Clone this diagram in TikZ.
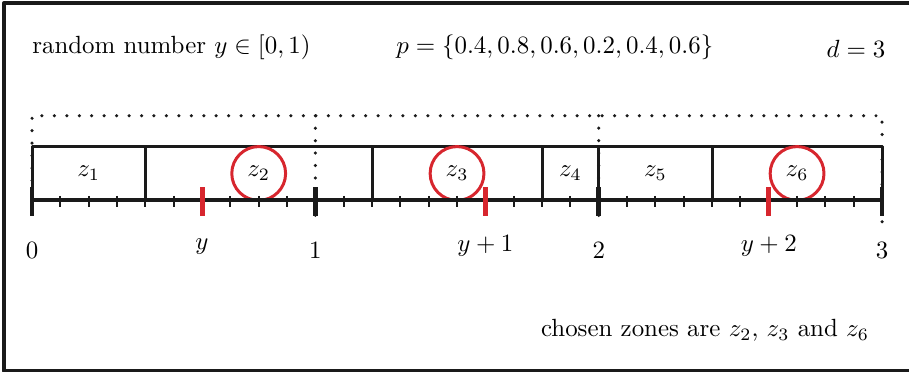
\documentclass[tikz,border=0pt]{standalone}
\usepackage{amsmath,amssymb}
\usepackage{xcolor}
\usepackage{tikz}
\usetikzlibrary{positioning,calc}
\definecolor{ink}{HTML}{1A1A1A}
\definecolor{pickred}{HTML}{D7262E}
\tikzset{
    every picture/.style={line join=round},
    zonebox/.style={draw=ink,line width=1.2pt,minimum height=0.75cm,
      inner sep=0pt,outer sep=0pt,font=\normalsize},
    picked/.style={draw=pickred,circle,line width=1.2pt,minimum size=0.76cm,
      inner sep=0pt},
    axisline/.style={draw=ink,line width=1.4pt},
    smalltick/.style={draw=ink,line width=0.75pt},
    bigtick/.style={draw=ink,line width=1.9pt},
    ymark/.style={draw=pickred,line width=2pt},
    bracket/.style={draw=ink,line width=1.4pt,line cap=round,
      dash pattern=on 0pt off 5pt},
    ticklabel/.style={font=\normalsize,inner sep=1pt}
}
\begin{document}
\begin{tikzpicture}
  \useasboundingbox (-0.452,-2.414) rectangle (12.38,2.824);
  \draw[ink,line width=1.5pt] (-0.395,-2.418) rectangle (12.45,2.78);
  % header texts
  \node[anchor=west] (rnd) at (-0.12,2.16) {random number $y\in[0,1)$};
  \node (prob) at (7.38,2.16) {$p=\{0.4,0.8,0.6,0.2,0.4,0.6\}$};
  \node[anchor=east] (dval) at (12.17,2.14) {$d=3$};
  % zones
  \foreach \x/\w/\i in {0/0.4/1,0.4/0.8/2,1.2/0.6/3,1.8/0.2/4,2.0/0.4/5,2.4/0.6/6} {
    \node[zonebox,minimum width={4cm*\w}] (z\i) at ({4*(\x+\w/2)},0.375) {$z_{\i}$};
  }
  \foreach \i in {2,3,6} {
    \node[picked] (c\i) at (z\i) {};
  }
  % dotted brackets
  \draw[bracket] (0,0.1) |- (12,1.19) -- (12,-0.35);
  \foreach \k in {1,2} {
    \draw[bracket] (4*\k,1.19) -- (4*\k,-0.35);
  }
  % axis
  \draw[axisline] (0,0) -- (12,0);
  \foreach \t in {1,...,29} {
    \draw[smalltick] (0.4*\t,0.06) -- (0.4*\t,-0.1);
  }
  \foreach \k in {0,1,2,3} {
    \draw[bigtick] (4*\k,0.18) -- (4*\k,-0.23);
    \node[ticklabel] (n\k) at (4*\k,-0.71) {$\k$};
  }
  \foreach \k/\s in {0/y,1/y+1,2/y+2} {
    \draw[ymark] ({4*(\k+0.6)},0.18) -- ({4*(\k+0.6)},-0.23);
    \node[ticklabel] (yl\k) at ({4*(\k+0.6)},-0.65) {$\s$};
  }
  \node (chosen) at (9.5,-1.84) {chosen zones are $z_2$, $z_3$ and $z_6$};
\end{tikzpicture}
\end{document}
